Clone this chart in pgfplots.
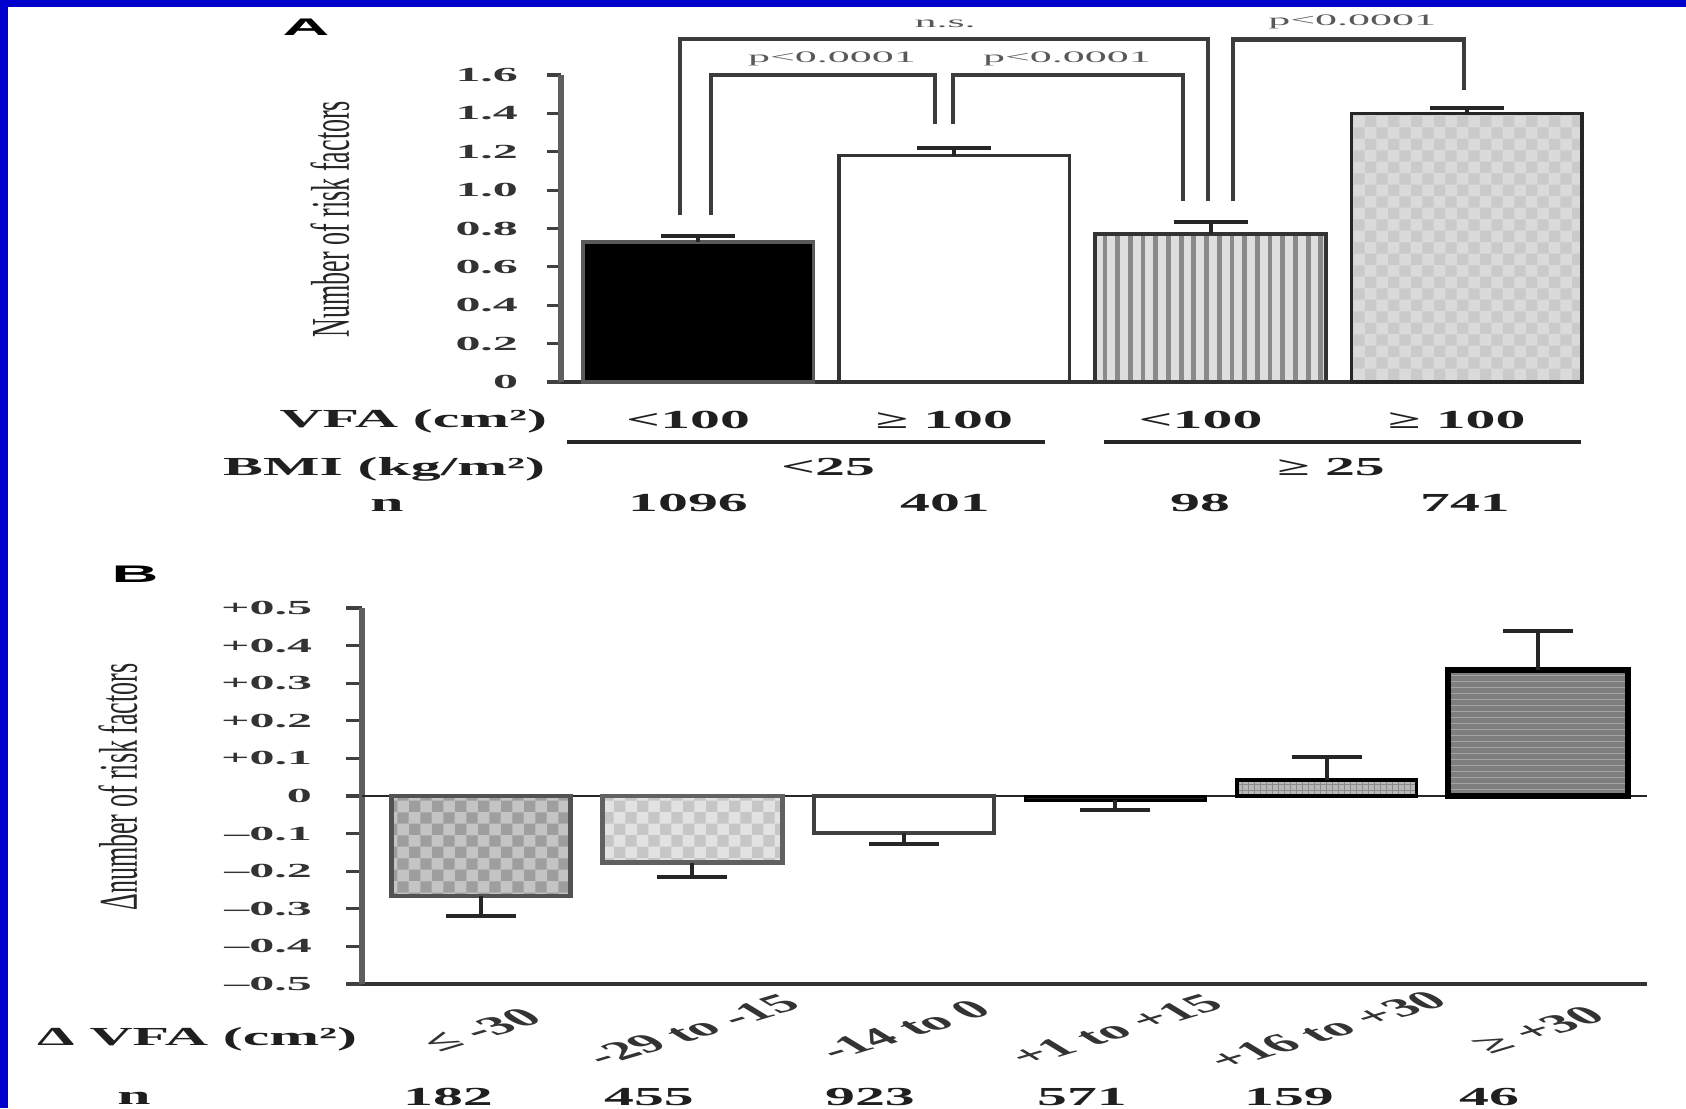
\documentclass[border=0pt]{standalone}
\usepackage{fontspec}
\setmainfont{Liberation Serif}
\newfontfamily\labsans{Liberation Sans}
\usepackage{pgfplots}
\pgfplotsset{compat=1.18}
\usetikzlibrary{patterns,patterns.meta}
\definecolor{frameblue}{HTML}{0000CC}
\definecolor{axgray}{HTML}{5E5E5E}
\definecolor{brk}{HTML}{3C3C3C}
\definecolor{stripe}{HTML}{8A8A8A}
\definecolor{stripebg}{HTML}{DEDEDE}
\definecolor{chkAbg}{HTML}{DADADA}
\definecolor{chkAfg}{HTML}{CACACA}
\definecolor{chkBbg}{HTML}{C4C4C4}
\definecolor{chkBfg}{HTML}{9E9E9E}
\definecolor{chkCbg}{HTML}{E2E2E2}
\definecolor{chkCfg}{HTML}{C6C6C6}
\definecolor{gridbg}{HTML}{B8B8B8}
\definecolor{gridfg}{HTML}{8A8A8A}
\definecolor{darkbg}{HTML}{7E7E7E}
\definecolor{darkfg}{HTML}{A4A4A4}
\begin{document}
\begin{tikzpicture}[
  rowtxt/.style={font=\bfseries\fontsize{13}{15}\selectfont, inner sep=0pt, xscale=2.3, text=black!88},
  ptxt/.style={font=\fontsize{8}{10}\selectfont, inner sep=0pt, xscale=2.75, text=black!65},
  ylab/.style={font=\fontsize{13}{15}\selectfont, inner sep=0pt, xscale=2.1, rotate=90, text=black!85},
  panel/.style={font=\labsans\bfseries\fontsize{12}{14}\selectfont, inner sep=0pt, xscale=2.7},
  br/.style={draw=brk, line width=2.2pt},
]
\useasboundingbox (0,0) rectangle (843pt,-554pt);
\fill[frameblue] (0,0) rectangle (843pt,-554pt);
\fill[white] (4pt,-3.5pt) rectangle (843pt,-554pt);

% ---------------- Panel A ----------------
\begin{axis}[
  at={(280.5pt,-191pt)}, anchor=south west,
  scale only axis, width=510.5pt, height=153.5pt,
  xmin=-0.535, xmax=3.45, ymin=0, ymax=1.6,
  axis lines=left, axis line style={-},
  x axis line style={draw=black!80, line width=1.8pt},
  y axis line style={draw=axgray, line width=2.8pt},
  tick align=outside, major tick length=7pt,
  ytick={0,0.2,0.4,0.6,0.8,1.0,1.2,1.4,1.6},
  yticklabels={0,0.2,0.4,0.6,0.8,1.0,1.2,1.4,1.6},
  yticklabel style={font=\bfseries\fontsize{10}{12}\selectfont, text=black!80, anchor=east, inner sep=0pt, xshift=-14pt, xscale=2.5},
  ytick style={draw=black!75, line width=1.6pt},
  xtick={0,1,2,3},
  xticklabels={<100, ≥ 100, <100, ≥ 100},
  xtick style={draw=none},
  xticklabel style={font=\bfseries\fontsize{13}{15}\selectfont, text=black!88, anchor=base, inner sep=0pt, xshift=-5pt, yshift=-16pt, xscale=2.3},
  ybar, bar width=0.9, bar shift=0pt,
  clip=false,
  error bars/y dir=plus, error bars/y explicit,
  error bars/error bar style={draw=black!85, line width=2pt},
  error bars/error mark options={rotate=90, draw=black!85, line width=2pt, mark size=18.5pt},
]
\addplot[fill=black, draw=black!65, line width=1.8pt] coordinates {(0,0.73) +- (0,0.03)};
\addplot[fill=white, draw=black!80, line width=1.8pt] coordinates {(1,1.18) +- (0,0.04)};
\addplot[fill=stripebg, draw=black!80, line width=1.8pt,
  postaction={pattern color=stripe, pattern={Lines[angle=90,distance=6.35pt,line width=2.4pt]}}]
  coordinates {(2,0.77) +- (0,0.065)};
\addplot[fill=chkAbg, draw=black!85, line width=1.8pt,
  postaction={pattern color=chkAfg, pattern=checkerboard}]
  coordinates {(3,1.40) +- (0,0.03)};
% significance brackets
\draw[br] (axis cs:-0.07,0.87) |- (axis cs:1.99,1.787) -- (axis cs:1.99,0.943);
\draw[br] (axis cs:0.05,0.87) |- (axis cs:0.925,1.6) -- (axis cs:0.925,1.345);
\draw[br] (axis cs:0.995,1.345) |- (axis cs:1.893,1.6) -- (axis cs:1.893,0.943);
\draw[br] (axis cs:2.088,0.943) |- (axis cs:2.99,1.785) -- (axis cs:2.99,1.52);
\node[ptxt] at (axis cs:0.964,1.866) {n.s.};
\node[ptxt] at (axis cs:0.523,1.683) {p<0.0001};
\node[ptxt] at (axis cs:1.44,1.683) {p<0.0001};
\node[ptxt] at (axis cs:2.553,1.876) {p<0.0001};
\end{axis}

\node[panel] at (153pt,-13.5pt) {A};
\node[ylab] at (165pt,-109.5pt) {Number of risk factors};
\node[rowtxt, anchor=base east] at (274pt,-213.5pt) {VFA (cm²)};
\draw[line width=1.6pt, black!85] (283.5pt,-221pt) -- (522.5pt,-221pt);
\draw[line width=1.6pt, black!85] (552pt,-221pt) -- (790.5pt,-221pt);
\node[rowtxt, anchor=base east] at (273pt,-237.5pt) {BMI (kg/m²)};
\node[rowtxt, anchor=base] at (414pt,-237.5pt) {<25};
\node[rowtxt, anchor=base] at (665.5pt,-237.5pt) {≥ 25};
\node[rowtxt, anchor=base] at (193.5pt,-255.5pt) {n};
\node[rowtxt, anchor=base] at (344pt,-255.5pt) {1096};
\node[rowtxt, anchor=base] at (472.5pt,-255.5pt) {401};
\node[rowtxt, anchor=base] at (600pt,-255.5pt) {98};
\node[rowtxt, anchor=base] at (732.5pt,-255.5pt) {741};

% ---------------- Panel B ----------------
\begin{axis}[
  at={(181pt,-492pt)}, anchor=south west,
  scale only axis, width=642.5pt, height=188pt,
  xmin=-0.563, xmax=5.515, ymin=-0.5, ymax=0.5,
  axis lines=left, axis line style={-},
  x axis line style={draw=black!80, line width=1.8pt},
  y axis line style={draw=axgray, line width=2.8pt},
  tick align=outside, major tick length=8pt,
  ytick={-0.5,-0.4,-0.3,-0.2,-0.1,0,0.1,0.2,0.3,0.4,0.5},
  yticklabels={–0.5,–0.4,–0.3,–0.2,–0.1,0,+0.1,+0.2,+0.3,+0.4,+0.5},
  yticklabel style={font=\bfseries\fontsize{10}{12}\selectfont, text=black!80, anchor=east, inner sep=0pt, xshift=-16.5pt, xscale=2.5},
  ytick style={draw=black!75, line width=1.6pt},
  xtick={0,1,2,3,4,5},
  xticklabels={≤ -30, -29 to -15, -14 to 0, +1 to +15, +16 to +30, ≥ +30},
  xtick style={draw=none},
  xticklabel style={font=\bfseries\fontsize{13}{15}\selectfont, text=black!80, anchor=center, inner sep=0pt, yshift=-15pt, xscale=2.35, rotate=35},
  ybar, bar width=0.85, bar shift=0pt,
  clip=false,
  error bars/y explicit,
  error bars/error bar style={draw=black!85, line width=2pt},
  error bars/error mark options={rotate=90, draw=black!85, line width=2pt, mark size=17.5pt},
]
\draw[black!85, line width=1.3pt] (axis cs:-0.563,0) -- (axis cs:5.515,0);
\addplot[fill=chkBbg, draw=black!68, line width=2.4pt, error bars/y dir=minus,
  postaction={pattern color=chkBfg, pattern=checkerboard}]
  coordinates {(0,-0.266) +- (0,0.054)};
\addplot[fill=chkCbg, draw=black!62, line width=2.4pt, error bars/y dir=minus,
  postaction={pattern color=chkCfg, pattern=checkerboard}]
  coordinates {(1,-0.177) +- (0,0.038)};
\addplot[fill=white, draw=black!75, line width=2pt, error bars/y dir=minus]
  coordinates {(2,-0.098) +- (0,0.029)};
\addplot[fill=black!85, draw=black, line width=1.5pt, error bars/y dir=minus]
  coordinates {(3,-0.011) +- (0,0.026)};
\addplot[fill=gridbg, draw=black, line width=1.8pt, error bars/y dir=plus,
  postaction={pattern color=gridfg, pattern=grid}]
  coordinates {(4,0.042) +- (0,0.062)};
\addplot[fill=darkbg, draw=black, line width=2.8pt, error bars/y dir=plus,
  postaction={pattern color=darkfg, pattern=horizontal lines}]
  coordinates {(5,0.335) +- (0,0.104)};
\end{axis}

\node[panel] at (67.5pt,-287pt) {B};
\node[ylab] at (59pt,-393.5pt) {Δnumber of risk factors};
\node[rowtxt, anchor=base east] at (179pt,-522.5pt) {Δ VFA (cm²)};
\node[rowtxt, anchor=base] at (67pt,-552pt) {n};
\node[rowtxt, anchor=base] at (224pt,-552.5pt) {182};
\node[rowtxt, anchor=base] at (324.5pt,-552.5pt) {455};
\node[rowtxt, anchor=base] at (435pt,-552.5pt) {923};
\node[rowtxt, anchor=base] at (541pt,-552.5pt) {571};
\node[rowtxt, anchor=base] at (644.5pt,-552.5pt) {159};
\node[rowtxt, anchor=base] at (744.5pt,-552.5pt) {46};
\end{tikzpicture}
\end{document}
